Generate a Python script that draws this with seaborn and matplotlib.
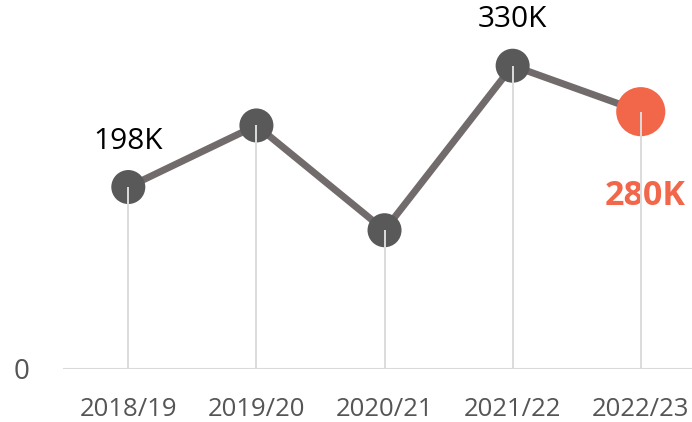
import numpy as np
import pandas as pd
import matplotlib.pyplot as plt
import seaborn as sns

years = ['2018/19', '2019/20', '2020/21', '2021/22', '2022/23']
values = [198, 265, 151, 330, 280]  # thousands
labels = ['198K', '', '', '330K', '280K']

df = pd.DataFrame({'year': years, 'value': values})
df['x'] = np.arange(len(df))

sns.set_style('white')
plt.rcParams['font.family'] = ['Open Sans', 'DejaVu Sans']

fig = plt.figure(figsize=(6.92, 4.22), dpi=100)
ax = fig.add_axes([0.091, 0.1256, 0.909, 0.784])

orange = '#f26649'
line_col = '#716c6b'
dot_col = '#595959'

# drop lines from each point to the baseline
ax.vlines(df['x'], 0, df['value'], color='#dcdcdc', lw=1.4, zorder=5)

sns.lineplot(data=df, x='x', y='value', color=line_col, lw=5, ax=ax, zorder=2)
sns.scatterplot(data=df.iloc[:-1], x='x', y='value', color=dot_col, s=600,
                edgecolor='none', ax=ax, zorder=3)
sns.scatterplot(data=df.iloc[-1:], x='x', y='value', color=orange, s=1250,
                edgecolor='none', ax=ax, zorder=3)

for i, (v, lab) in enumerate(zip(values, labels)):
    if not lab:
        continue
    if i == len(values) - 1:
        ax.annotate(lab, (i, v), xytext=(3, -61), textcoords='offset points',
                    ha='center', va='center', fontsize=24.5, fontweight='bold',
                    color=orange, annotation_clip=False)
    else:
        ax.annotate(lab, (i, v), xytext=(0, 33), textcoords='offset points',
                    ha='center', va='center', fontsize=21.5, color='black',
                    annotation_clip=False)

ax.axhline(0, color='#d9d9d9', lw=1.5, zorder=1)
ax.set_xlim(-0.51, 4.4)
ax.set_ylim(0, 360)
ax.set_xticks(df['x'])
ax.set_xticklabels(years, fontsize=18.5, color='#555555')
ax.set_yticks([0])
ax.set_yticklabels(['0'], fontsize=20, color='#555555')
ax.tick_params(axis='x', length=0, pad=20)
ax.tick_params(axis='y', length=0, pad=24)
ax.set_xlabel('')
ax.set_ylabel('')
sns.despine(ax=ax, left=True, bottom=True)

fig.savefig('out.png', dpi=100)
